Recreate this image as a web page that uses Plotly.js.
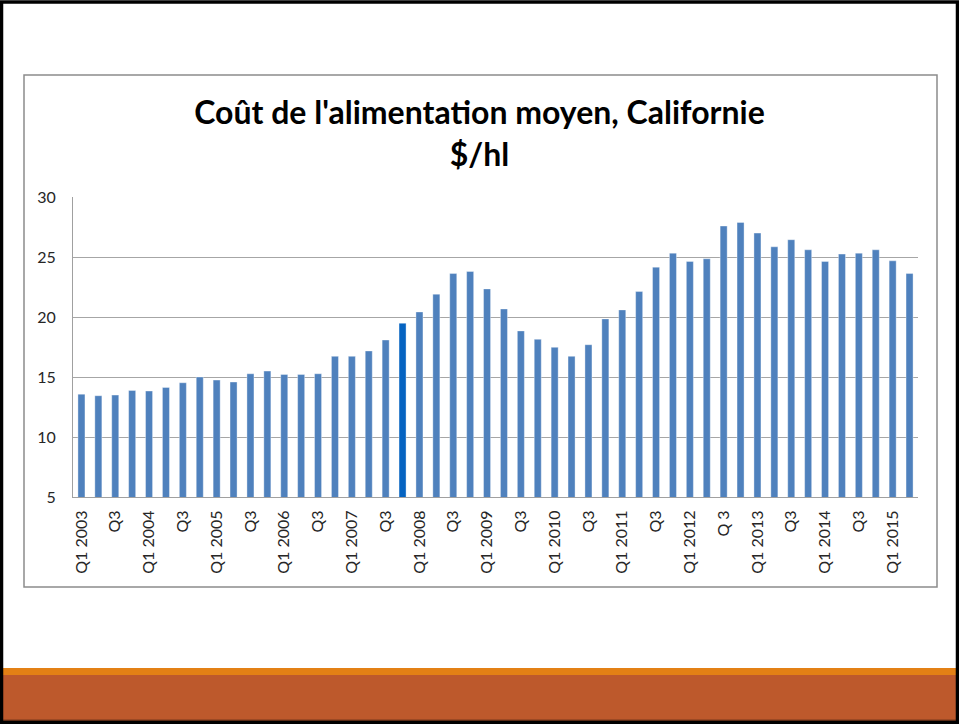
<!DOCTYPE html>
<html>
<head>
<meta charset="utf-8">
<script src="https://cdn.plot.ly/plotly-3.0.1.min.js"></script>
<style>
  html, body { margin: 0; padding: 0; background: #ffffff; }
  #chart { width: 959px; height: 724px; }
</style>
</head>
<body>
<div id="chart"></div>
<script>
// ---- Data ----
const quarters = [
  "Q1 2003","Q2 2003","Q3 2003","Q4 2003",
  "Q1 2004","Q2 2004","Q3 2004","Q4 2004",
  "Q1 2005","Q2 2005","Q3 2005","Q4 2005",
  "Q1 2006","Q2 2006","Q3 2006","Q4 2006",
  "Q1 2007","Q2 2007","Q3 2007","Q4 2007",
  "Q1 2008","Q2 2008","Q3 2008","Q4 2008",
  "Q1 2009","Q2 2009","Q3 2009","Q4 2009",
  "Q1 2010","Q2 2010","Q3 2010","Q4 2010",
  "Q1 2011","Q2 2011","Q3 2011","Q4 2011",
  "Q1 2012","Q2 2012","Q3 2012","Q4 2012",
  "Q1 2013","Q2 2013","Q3 2013","Q4 2013",
  "Q1 2014","Q2 2014","Q3 2014","Q4 2014",
  "Q1 2015","Q2 2015"
];
const feedCost = [
  13.57, 13.44, 13.49, 13.88,
  13.83, 14.13, 14.52, 15.00,
  14.74, 14.58, 15.27, 15.49,
  15.21, 15.21, 15.27, 16.72,
  16.72, 17.17, 18.08, 19.48,
  20.42, 21.90, 23.62, 23.79,
  22.34, 20.67, 18.84, 18.14,
  17.47, 16.72, 17.69, 19.84,
  20.59, 22.12, 24.15, 25.32,
  24.63, 24.85, 27.58, 27.88,
  26.99, 25.85, 26.44, 25.60,
  24.63, 25.24, 25.32, 25.60,
  24.68, 23.62
];
const highlightQuarter = "Q4 2007";
const tickLabels = [
  "Q1 2003","Q3","Q1 2004","Q3","Q1 2005","Q3","Q1 2006","Q3",
  "Q1 2007","Q3","Q1 2008","Q3","Q1 2009","Q3","Q1 2010","Q3",
  "Q1 2011","Q3","Q1 2012","Q 3","Q1 2013","Q3","Q1 2014","Q3",
  "Q1 2015"
];
const yTicks = [5, 10, 15, 20, 25, 30];

// ---- Styles / layout helpers ----
const W = 959, H = 724;
const M = { l: 73, r: 41, t: 197, b: 227 };
const PW = W - M.l - M.r, PH = H - M.t - M.b;
const px = x => (x - M.l) / PW;
const py = y => (H - M.b - y) / PH;

const barColors = quarters.map(q => q === highlightQuarter ? "#0563C1" : "#4F81BD");
const tickVals = quarters.filter((q, i) => i % 2 === 0);

const trace = {
  type: "bar",
  x: quarters,
  y: feedCost,
  marker: { color: barColors, line: { color: "rgba(255,255,255,0.6)", width: 0.6 } },
  hoverinfo: "x+y"
};

const shapes = [
  // chart area box
  { type: "rect", xref: "paper", yref: "paper", layer: "below",
    x0: px(24), x1: px(937), y0: py(75), y1: py(587),
    line: { color: "#8c8c8c", width: 1.5 }, fillcolor: "rgba(0,0,0,0)" },
  // orange band
  { type: "rect", xref: "paper", yref: "paper", layer: "above",
    x0: px(0), x1: px(W), y0: py(668), y1: py(675),
    line: { width: 0 }, fillcolor: "#E38015" },
  // brown band
  { type: "rect", xref: "paper", yref: "paper", layer: "above",
    x0: px(0), x1: px(W), y0: py(675), y1: py(720),
    line: { width: 0 }, fillcolor: "#BD592C" },
  // dark line at bottom of band
  { type: "rect", xref: "paper", yref: "paper", layer: "above",
    x0: px(0), x1: px(W), y0: py(719.5), y1: py(721),
    line: { width: 0 }, fillcolor: "#7A3A1C" },
  // slide frame
  { type: "rect", xref: "paper", yref: "paper", layer: "above",
    x0: px(1.5), x1: px(W - 1.5), y0: py(2), y1: py(H - 1.5),
    line: { color: "#000000", width: 3.5 }, fillcolor: "rgba(0,0,0,0)" }
];

const layout = {
  width: W, height: H,
  margin: M,
  paper_bgcolor: "#ffffff",
  plot_bgcolor: "rgba(0,0,0,0)",
  showlegend: false,
  bargap: 0.585,
  font: { family: "Lato, 'Open Sans', sans-serif", color: "#262626" },
  title: {
    text: "Coût de l'alimentation moyen, Californie<br>$/hl",
    font: { family: "Lato, 'Open Sans', sans-serif", size: 32, color: "#000000", weight: 700 },
    x: 0.5, xanchor: "center",
    y: 1 - 124 / H, yanchor: "middle"
  },
  xaxis: {
    type: "category",
    tickmode: "array",
    tickvals: tickVals,
    ticktext: tickLabels,
    tickangle: -90,
    tickfont: { size: 16, color: "#262626" },
    ticks: "",
    ticklabelstandoff: 6,
    showgrid: false,
    showline: true,
    linecolor: "#a0a0a0",
    linewidth: 1,
    fixedrange: true
  },
  yaxis: {
    range: [5, 30],
    tickmode: "array",
    tickvals: yTicks,
    tickfont: { size: 16, color: "#262626" },
    ticks: "",
    ticklabelstandoff: 13,
    showgrid: true,
    gridcolor: "#a6a6a6",
    gridwidth: 1,
    showline: true,
    linecolor: "#a0a0a0",
    linewidth: 1,
    zeroline: false,
    fixedrange: true
  },
  shapes: shapes
};

Plotly.newPlot("chart", [trace], layout, { displayModeBar: false, staticPlot: true });
</script>
</body>
</html>
